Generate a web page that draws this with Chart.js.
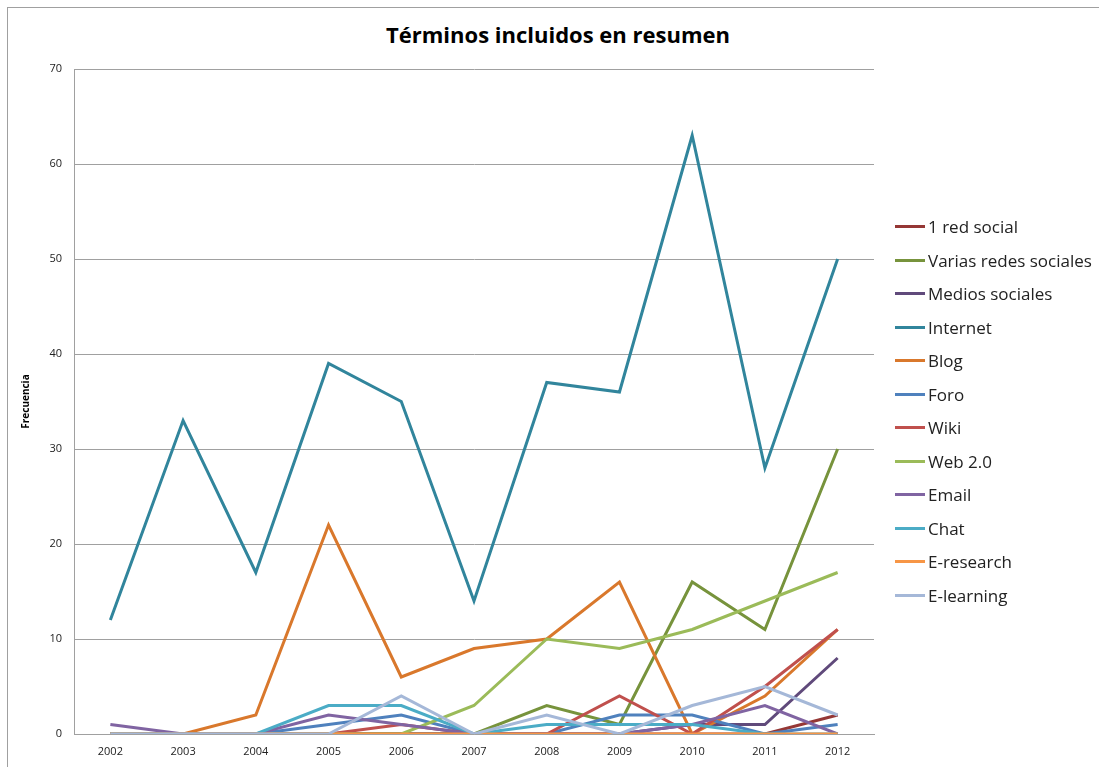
<!DOCTYPE html>
<html>
<head>
<meta charset="utf-8">
<script src="https://cdn.jsdelivr.net/npm/chart.js@4"></script>
<style>
  body { margin: 0; background: #fff; font-family: "Open Sans", "Liberation Sans", sans-serif; }
  #wrap { position: relative; width: 1099px; height: 767px; overflow: hidden; }
  #frame { position: absolute; left: 7px; top: 7px; width: 1100px; height: 800px; border: 1px solid #a0a0a0; }
  #title { position: absolute; left: 0; width: 1116px; top: 19px; text-align: center; font-size: 22px; font-weight: bold; color: #000; }
  #legend { position: absolute; left: 895px; top: 216px; }
  .item { height: 33.5px; display: flex; align-items: center; font-size: 17px; color: #222; position: relative; top: -6px; }
  .swatch { width: 30px; height: 3px; margin-right: 3px; }
  canvas { position: absolute; left: 0; top: 0; }
</style>
</head>
<body>
<div id="wrap">
  <div id="frame"></div>
  <div id="title">Términos incluidos en resumen</div>
  <canvas id="lineChart" width="1099" height="767"></canvas>
  <div id="legend"></div>
</div>
<script>
const years = ['2002', '2003', '2004', '2005', '2006', '2007', '2008', '2009', '2010', '2011', '2012'];
const yTicks = [0, 10, 20, 30, 40, 50, 60, 70];

const redSocial      = [0, 0, 0, 0, 0, 0, 0, 0, 0, 0, 2];
const variasRedes    = [0, 0, 0, 0, 0, 0, 3, 1, 16, 11, 30];
const mediosSociales = [0, 0, 0, 0, 0, 0, 0, 0, 1, 1, 8];
const internet       = [12, 33, 17, 39, 35, 14, 37, 36, 63, 28, 50];
const blog           = [0, 0, 2, 22, 6, 9, 10, 16, 0, 4, 11];
const foro           = [0, 0, 0, 1, 2, 0, 0, 2, 2, 0, 1];
const wiki           = [0, 0, 0, 0, 1, 0, 0, 4, 0, 5, 11];
const web20          = [0, 0, 0, 0, 0, 3, 10, 9, 11, 14, 17];
const email          = [1, 0, 0, 2, 1, 0, 0, 0, 1, 3, 0];
const chat           = [0, 0, 0, 3, 3, 0, 1, 1, 1, 0, 0];
const eResearch      = [0, 0, 0, 0, 0, 0, 0, 0, 0, 0, 0];
const eLearning      = [0, 0, 0, 0, 4, 0, 2, 0, 3, 5, 2];

const series = [
  ['1 red social', redSocial, '#953735'],
  ['Varias redes sociales', variasRedes, '#77933C'],
  ['Medios sociales', mediosSociales, '#604A7B'],
  ['Internet', internet, '#31859C'],
  ['Blog', blog, '#D9782C'],
  ['Foro', foro, '#4F81BD'],
  ['Wiki', wiki, '#C0504D'],
  ['Web 2.0', web20, '#9BBB59'],
  ['Email', email, '#8064A2'],
  ['Chat', chat, '#4BACC6'],
  ['E-research', eResearch, '#F79646'],
  ['E-learning', eLearning, '#A5B8D8']
];

const datasets = series.map((s, i) => ({
  label: s[0],
  data: s[1],
  borderColor: s[2],
  backgroundColor: s[2],
  borderWidth: 3,
  pointRadius: 0,
  tension: 0,
  order: series.length - i
}));

const ctx = document.getElementById('lineChart');
new Chart(ctx, {
  type: 'line',
  data: { labels: years, datasets: datasets },
  options: {
    responsive: false,
    animation: false,
    layout: { padding: { left: 20, right: 225, top: 69, bottom: 0 } },
    plugins: { legend: { display: false }, tooltip: { enabled: false } },
    scales: {
      x: {
        offset: true,
        grid: { display: false, drawTicks: false },
        border: { color: '#a0a0a0', width: 1 },
        ticks: { color: '#222', font: { family: 'Open Sans', size: 11 }, padding: 11, maxRotation: 0 },
        afterFit: (s) => { s.height = 33; }
      },
      y: {
        min: 0,
        max: 70,
        afterBuildTicks: (s) => { s.ticks = yTicks.map(v => ({ value: v })); },
        grid: { color: '#a0a0a0', drawTicks: false },
        border: { color: '#a0a0a0', width: 1 },
        ticks: { color: '#222', font: { family: 'Open Sans', size: 11 }, padding: 12 },
        title: { display: true, text: 'Frecuencia', color: '#000', font: { family: 'Open Sans', size: 10, weight: 'bold' }, padding: 0 },
        afterFit: (s) => { s.width = 54; }
      }
    }
  }
});

const legend = document.getElementById('legend');
series.forEach(s => {
  const row = document.createElement('div');
  row.className = 'item';
  row.innerHTML = '<span class="swatch" style="background:' + s[2] + '"></span>' + s[0];
  legend.appendChild(row);
});
</script>
</body>
</html>
